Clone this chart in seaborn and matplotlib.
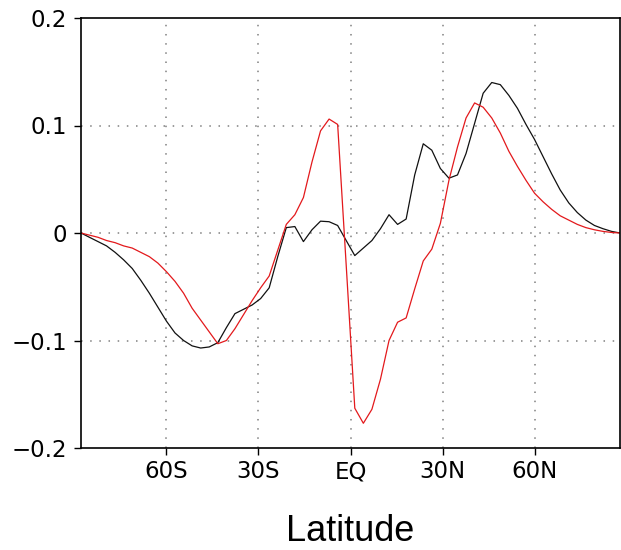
import matplotlib
matplotlib.use("Agg")
import matplotlib.pyplot as plt
import seaborn as sns
import pandas as pd

# T42 Gaussian latitudes (south to north)
lat_south = [-87.86, -85.10, -82.31, -79.53, -76.74, -73.95, -71.16, -68.37,
             -65.58, -62.79, -60.00, -57.21, -54.42, -51.63, -48.84, -46.05,
             -43.25, -40.46, -37.67, -34.88, -32.09, -29.30, -26.51, -23.72,
             -20.93, -18.14, -15.35, -12.56, -9.77, -6.98, -4.19, -1.40]
latitudes = lat_south + [-v for v in reversed(lat_south)]

black_vals = [0.0, -0.004, -0.008, -0.012, -0.018, -0.025, -0.033, -0.044,
              -0.056, -0.069, -0.082, -0.093, -0.100, -0.105, -0.107, -0.106,
              -0.102, -0.088, -0.075, -0.071, -0.067, -0.061, -0.051, -0.022,
              0.005, 0.006, -0.008, 0.003, 0.011, 0.0105, 0.007, -0.007,
              -0.021, -0.014, -0.007, 0.004, 0.017, 0.008, 0.013, 0.054,
              0.083, 0.077, 0.060, 0.051, 0.054, 0.074, 0.102, 0.130,
              0.140, 0.138, 0.128, 0.116, 0.101, 0.087, 0.071, 0.055,
              0.040, 0.028, 0.019, 0.012, 0.007, 0.004, 0.0015, 0.0]

red_vals = [0.0, -0.002, -0.004, -0.007, -0.009, -0.012, -0.014, -0.018,
            -0.022, -0.028, -0.036, -0.045, -0.056, -0.070, -0.081, -0.092,
            -0.103, -0.100, -0.089, -0.076, -0.063, -0.051, -0.040, -0.016,
            0.008, 0.017, 0.033, 0.066, 0.095, 0.106, 0.101, -0.030,
            -0.163, -0.177, -0.164, -0.136, -0.100, -0.083, -0.079, -0.052,
            -0.026, -0.015, 0.009, 0.049, 0.080, 0.107, 0.121, 0.117,
            0.107, 0.093, 0.076, 0.062, 0.049, 0.037, 0.029, 0.022,
            0.016, 0.012, 0.008, 0.005, 0.003, 0.0015, 0.0005, 0.0]

x_ticks = [-60, -30, 0, 30, 60]
x_tick_labels = ["60S", "30S", "EQ", "30N", "60N"]
y_ticks = [-0.2, -0.1, 0.0, 0.1, 0.2]
y_tick_labels = ["\u22120.2", "\u22120.1", "0", "0.1", "0.2"]

df = pd.DataFrame({
    "lat": latitudes * 2,
    "value": black_vals + red_vals,
    "series": ["black"] * len(latitudes) + ["red"] * len(latitudes),
})

sns.set_theme(style="white")
plt.rcParams["font.family"] = ["DejaVu Sans"]
plt.rcParams["text.color"] = "black"
plt.rcParams["xtick.color"] = "black"
plt.rcParams["ytick.color"] = "black"
plt.rcParams["axes.labelcolor"] = "black"

fig = plt.figure(figsize=(6.21, 5.5), dpi=100)
ax = fig.add_axes([81 / 621, 102 / 550, 539 / 621, 430 / 550])

sns.lineplot(data=df, x="lat", y="value", hue="series",
             palette={"black": "#111111", "red": "#e3191c"},
             estimator=None, sort=False, linewidth=0.9, legend=False, ax=ax)

ax.set_xlim(-87.86, 87.86)
ax.set_ylim(-0.2, 0.2)
ax.set_xticks(x_ticks)
ax.set_xticklabels(x_tick_labels)
ax.set_yticks(y_ticks)
ax.set_yticklabels(y_tick_labels)

for x in x_ticks:
    ax.axvline(x, color="#808080", linestyle=(0, (1, 5)), linewidth=1.1, zorder=0)
for y in [-0.1, 0.0, 0.1]:
    ax.axhline(y, color="#808080", linestyle=(0, (1, 5)), linewidth=1.1, zorder=0)

for s in ax.spines.values():
    s.set_visible(True)
    s.set_color("black")
    s.set_linewidth(1.2)

ax.tick_params(axis="both", which="major", direction="out", length=5,
               width=1.0, color="black", labelcolor="black", labelsize=16.5,
               pad=4, bottom=True, left=True, top=False, right=False)
ax.tick_params(axis="y", pad=5)

ax.set_ylabel("")
ax.set_xlabel("Latitude", fontsize=26, family="Liberation Sans", labelpad=22,
              color="black")

fig.savefig("out.png", dpi=100)
